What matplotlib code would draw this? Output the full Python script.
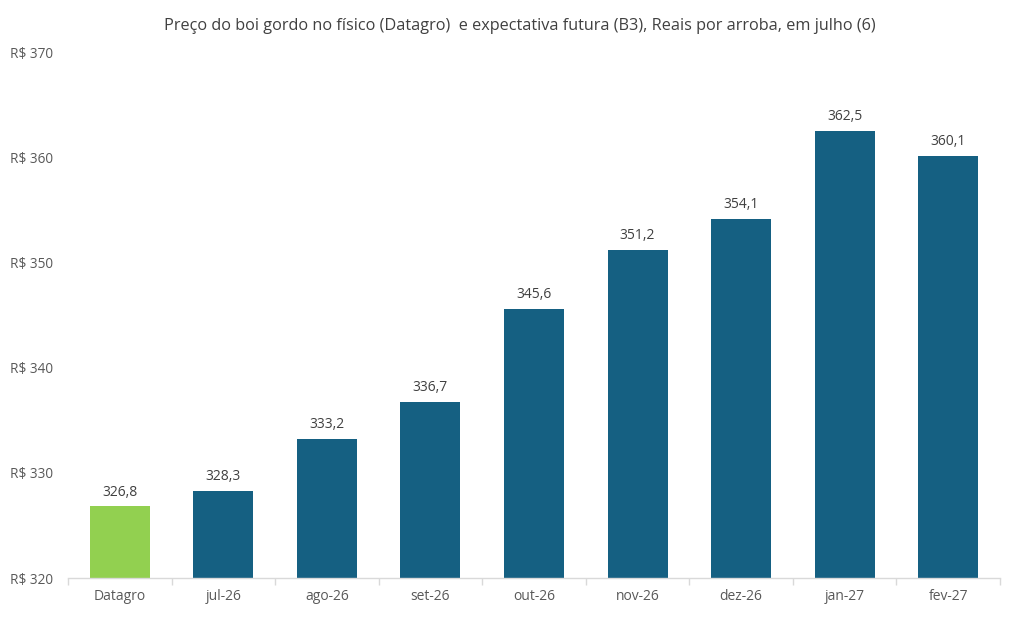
import matplotlib.pyplot as plt
import numpy as np

categories = ["Datagro", "jul-26", "ago-26", "set-26", "out-26", "nov-26", "dez-26", "jan-27", "fev-27"]
values = [326.8, 328.3, 333.2, 336.7, 345.6, 351.2, 354.1, 362.5, 360.1]
value_labels = ["326,8", "328,3", "333,2", "336,7", "345,6", "351,2", "354,1", "362,5", "360,1"]
y_ticks = [320, 330, 340, 350, 360, 370]
y_tick_labels = ["R$ 320", "R$ 330", "R$ 340", "R$ 350", "R$ 360", "R$ 370"]
title = "Preço do boi gordo no físico (Datagro)  e expectativa futura (B3), Reais por arroba, em julho (6)"

plt.rcParams['font.family'] = ['Open Sans', 'DejaVu Sans']

fig = plt.figure(figsize=(10.11, 6.3), dpi=100)
ax = fig.add_axes([68/1011, 52/630, 932/1011, 526/630])

colors = ["#92D050"] + ["#156082"] * (len(categories) - 1)
x = np.arange(len(categories))
bars = ax.bar(x, np.array(values) - 320, bottom=320, width=0.58, color=colors, zorder=2)

for xi, v, lab in zip(x, values, value_labels):
    ax.text(xi, v + 0.65, lab, ha='center', va='bottom', fontsize=10, color='#404040')

ax.set_ylim(320, 370)
ax.set_xlim(-0.5, len(categories) - 0.5)
ax.set_yticks(y_ticks)
ax.set_yticklabels(y_tick_labels, fontsize=9.8, color='#595959')
ax.set_xticks(x)
ax.set_xticklabels(categories, fontsize=10, color='#595959')
ax.tick_params(axis='y', length=0, pad=11)
ax.tick_params(axis='x', length=0, pad=8)
ax.set_xticks(np.arange(-0.5, len(categories), 1.0), minor=True)
ax.tick_params(axis='x', which='minor', length=5, color='#D9D9D9', width=1)

for s in ['top', 'right', 'left']:
    ax.spines[s].set_visible(False)
ax.spines['bottom'].set_color('#D9D9D9')
ax.spines['bottom'].set_linewidth(1)

fig.text(0.514, 0.958, title, ha='center', va='center', fontsize=11.7, color='#404040')

fig.savefig("out.png", dpi=100)
